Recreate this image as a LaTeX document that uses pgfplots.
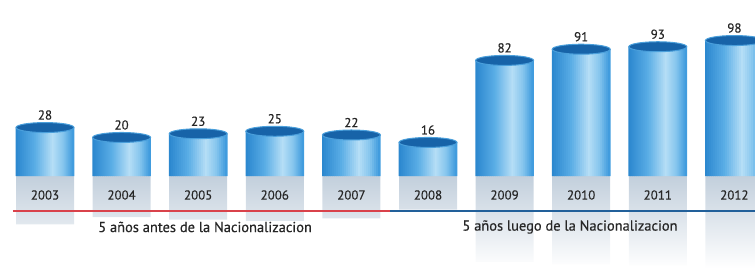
\documentclass[border=0pt]{standalone}
\usepackage{fontspec}
\setmainfont{PT Sans}
\newfontfamily\labfont[FakeBold=0.4]{PT Sans}
\usepackage{pgfplots}
\usepackage{pgfplotstable}
\pgfplotsset{compat=1.18}
\definecolor{cylL}{HTML}{2A86CE}
\definecolor{cylLb}{HTML}{5BAEE6}
\definecolor{cylH}{HTML}{B6DEF6}
\definecolor{cylRb}{HTML}{86C6EE}
\definecolor{cylR}{HTML}{3A97DC}
\pgfplotsforeachungrouped \k in {0,...,28}{%
  \pgfmathsetmacro\t{(\k+0.5)/29}%
  \ifdim\t pt<0.34pt
    \pgfmathsetmacro\p{100*\t/0.34}\colorlet{s\k}{cylLb!\p!cylL}%
  \else\ifdim\t pt<0.64pt
    \pgfmathsetmacro\p{100*(\t-0.34)/0.30}\colorlet{s\k}{cylH!\p!cylLb}%
  \else\ifdim\t pt<0.82pt
    \pgfmathsetmacro\p{100*(\t-0.64)/0.18}\colorlet{s\k}{cylRb!\p!cylH}%
  \else
    \pgfmathsetmacro\p{100*(\t-0.82)/0.18}\colorlet{s\k}{cylR!\p!cylRb}%
  \fi\fi\fi}
\definecolor{cyltopc}{HTML}{1763A8}
\definecolor{cylrim}{HTML}{4A9FDB}
\definecolor{refl}{HTML}{C2CFDC}
\definecolor{lineRed}{HTML}{D9424B}
\definecolor{lineBlue}{HTML}{22609A}
\definecolor{txt}{HTML}{262626}
\pgfdeclareplotmark{cyltop}{%
  \pgfpathellipse{\pgfpointorigin}{\pgfqpoint{29bp}{0pt}}{\pgfqpoint{0pt}{5bp}}%
  \pgfsetfillcolor{cyltopc}\pgfsetstrokecolor{cylrim}\pgfsetlinewidth{1bp}%
  \pgfusepath{fill,stroke}}
\pgfplotstableread{
x v
0 28
1 20
2 23
3 25
4 22
5 16
6 82
7 91
8 93
9 98
}\data
\pgfplotsset{
  base/.style={
    scale only axis, width=755bp, height=268bp,
    xmin=-0.5875, xmax=9.269, ymin=-74, ymax=141.6,
    at={(0,0)}, anchor=south west,
  }
}
\begin{document}
\begin{tikzpicture}
% reflections
\begin{axis}[base, hide axis]
\addplot[ybar, bar width=58bp, draw=none, top color=refl, bottom color=white] coordinates {
(0,-39) (1,-33) (2,-35) (3,-36) (4,-34) (5,-27) (6,-69) (7,-71) (8,-72) (9,-74)};
\end{axis}
% cylinders
\begin{axis}[base,
  axis line style={draw=none}, tick style={draw=none},
  clip marker paths=true,
  xtick={0,...,9},
  xticklabels={2003,2004,2005,2006,2007,2008,2009,2010,2011,2012},
  xticklabel style={anchor=center, yshift=73bp, font=\labfont\fontsize{13}{15}\selectfont, text=txt},
  ytick=\empty,
  /pgf/number format/assume math mode=true,
]
\pgfplotsinvokeforeach{0,...,28}{
  \addplot[ybar, bar width=2.6bp, bar shift={(#1-14)*2bp}, fill=s#1, draw=none]
    table[x=x, y expr=\thisrow{v}+11] {\data};
}
\addplot[only marks, mark=cyltop,
  nodes near coords, point meta=\thisrow{v},
  every node near coord/.append style={anchor=south, yshift=4bp,
  font=\labfont\fontsize{13}{15}\selectfont, text=txt}]
  table[x=x, y expr=\thisrow{v}+11] {\data};
\draw[line width=2.5bp, lineRed] (axis cs:-0.418,-28.2) -- (axis cs:4.504,-28.2);
\draw[line width=2.5bp, lineBlue] (axis cs:4.504,-28.2) -- (axis cs:9.269,-28.2);
\node[font=\labfont\fontsize{14.5}{16}\selectfont, text=txt] at (axis cs:2.09,-41) {5 años antes de la Nacionalizacion};
\node[font=\labfont\fontsize{14.5}{16}\selectfont, text=txt] at (axis cs:6.854,-41) {5 años luego de la Nacionalizacion};
\end{axis}
\end{tikzpicture}
\end{document}
